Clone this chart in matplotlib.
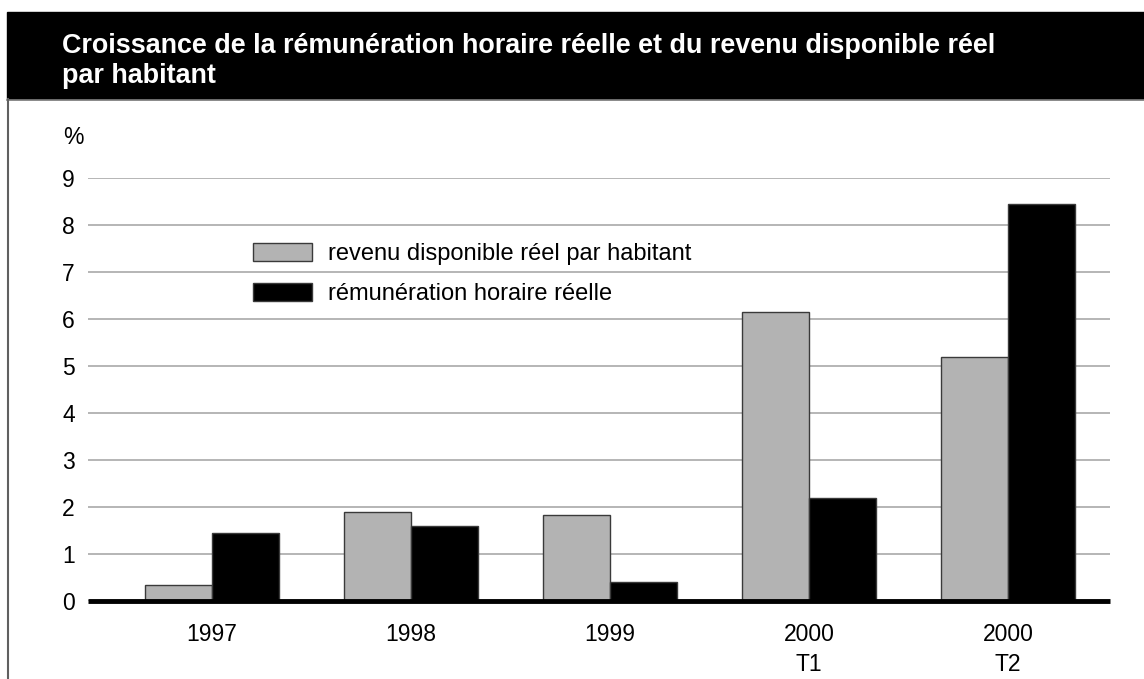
import matplotlib.pyplot as plt
from matplotlib.patches import Rectangle
from matplotlib.lines import Line2D

categories = ['1997', '1998', '1999', '2000\nT1', '2000\nT2']
revenu = [0.35, 1.9, 1.82, 6.15, 5.2]
remuneration = [1.45, 1.6, 0.4, 2.2, 8.45]
yticks = [0, 1, 2, 3, 4, 5, 6, 7, 8, 9]

title_lines = ["Croissance de la rémunération horaire réelle et du revenu disponible réel",
               "par habitant"]
legend_labels = ['revenu disponible réel par habitant', 'rémunération horaire réelle']

plt.rcParams['font.family'] = ['Liberation Sans', 'DejaVu Sans']

W, H = 1144, 679
fig = plt.figure(figsize=(W / 100, H / 100), dpi=100)

# title bar and frame
fig.patches.append(Rectangle((7 / W, 1 - 99 / H), 1 - 7 / W, 87 / H,
                             transform=fig.transFigure, color='black', zorder=0))
fig.lines.append(Line2D([7 / W, 1], [1 - 100 / H, 1 - 100 / H],
                        transform=fig.transFigure, color='#808080', lw=1.2))
fig.lines.append(Line2D([8 / W, 8 / W], [0, 1 - 99 / H],
                        transform=fig.transFigure, color='#606060', lw=1.5))
for line, base in zip(title_lines, [53, 83]):
    fig.text(62 / W, 1 - base / H, line, color='white', fontsize=19.4,
             fontweight='bold', va='baseline', ha='left')

# axes: x from 88 to 1110 px, y from 0 at 601 to 9 at 178
ax = fig.add_axes([88 / W, 1 - 601 / H, (1110 - 88) / W, (601 - 178) / H])
x = list(range(len(categories)))
w = 0.335
ax.bar([i - w / 2 for i in x], revenu, width=w, color='#b3b3b3',
       edgecolor='#3a3a3a', linewidth=1, zorder=3, label=legend_labels[0])
ax.bar([i + w / 2 for i in x], remuneration, width=w, color='black',
       edgecolor='#3a3a3a', linewidth=1, zorder=3, label=legend_labels[1])

ax.set_xlim(-0.623, 4.513)
ax.set_ylim(0, 9)
ax.set_yticks(yticks)
ax.grid(axis='y', color='#b0b0b0', lw=1.3, zorder=0)
ax.set_xticks(x)
ax.set_xticklabels(categories, fontsize=16.5, linespacing=1.38)
ax.tick_params(axis='y', length=0, pad=9.4, labelsize=16.5)
ax.tick_params(axis='x', length=0, pad=16)
for s in ['top', 'right', 'left']:
    ax.spines[s].set_visible(False)
ax.spines['bottom'].set_linewidth(3.5)
ax.spines['bottom'].set_zorder(4)
ax.spines['bottom'].set_capstyle('butt')
fig.text(63 / W, 1 - 138 / H, '%', fontsize=16.5, ha='left', va='center')

ax.legend(loc='upper left', bbox_to_anchor=(253 / W, 1 - 243 / H),
          bbox_transform=fig.transFigure, frameon=False, borderpad=0,
          borderaxespad=0, fontsize=17, handlelength=2.5, handleheight=0.78,
          labelspacing=0.76, handletextpad=0.68)

fig.savefig('out.png', dpi=100)
